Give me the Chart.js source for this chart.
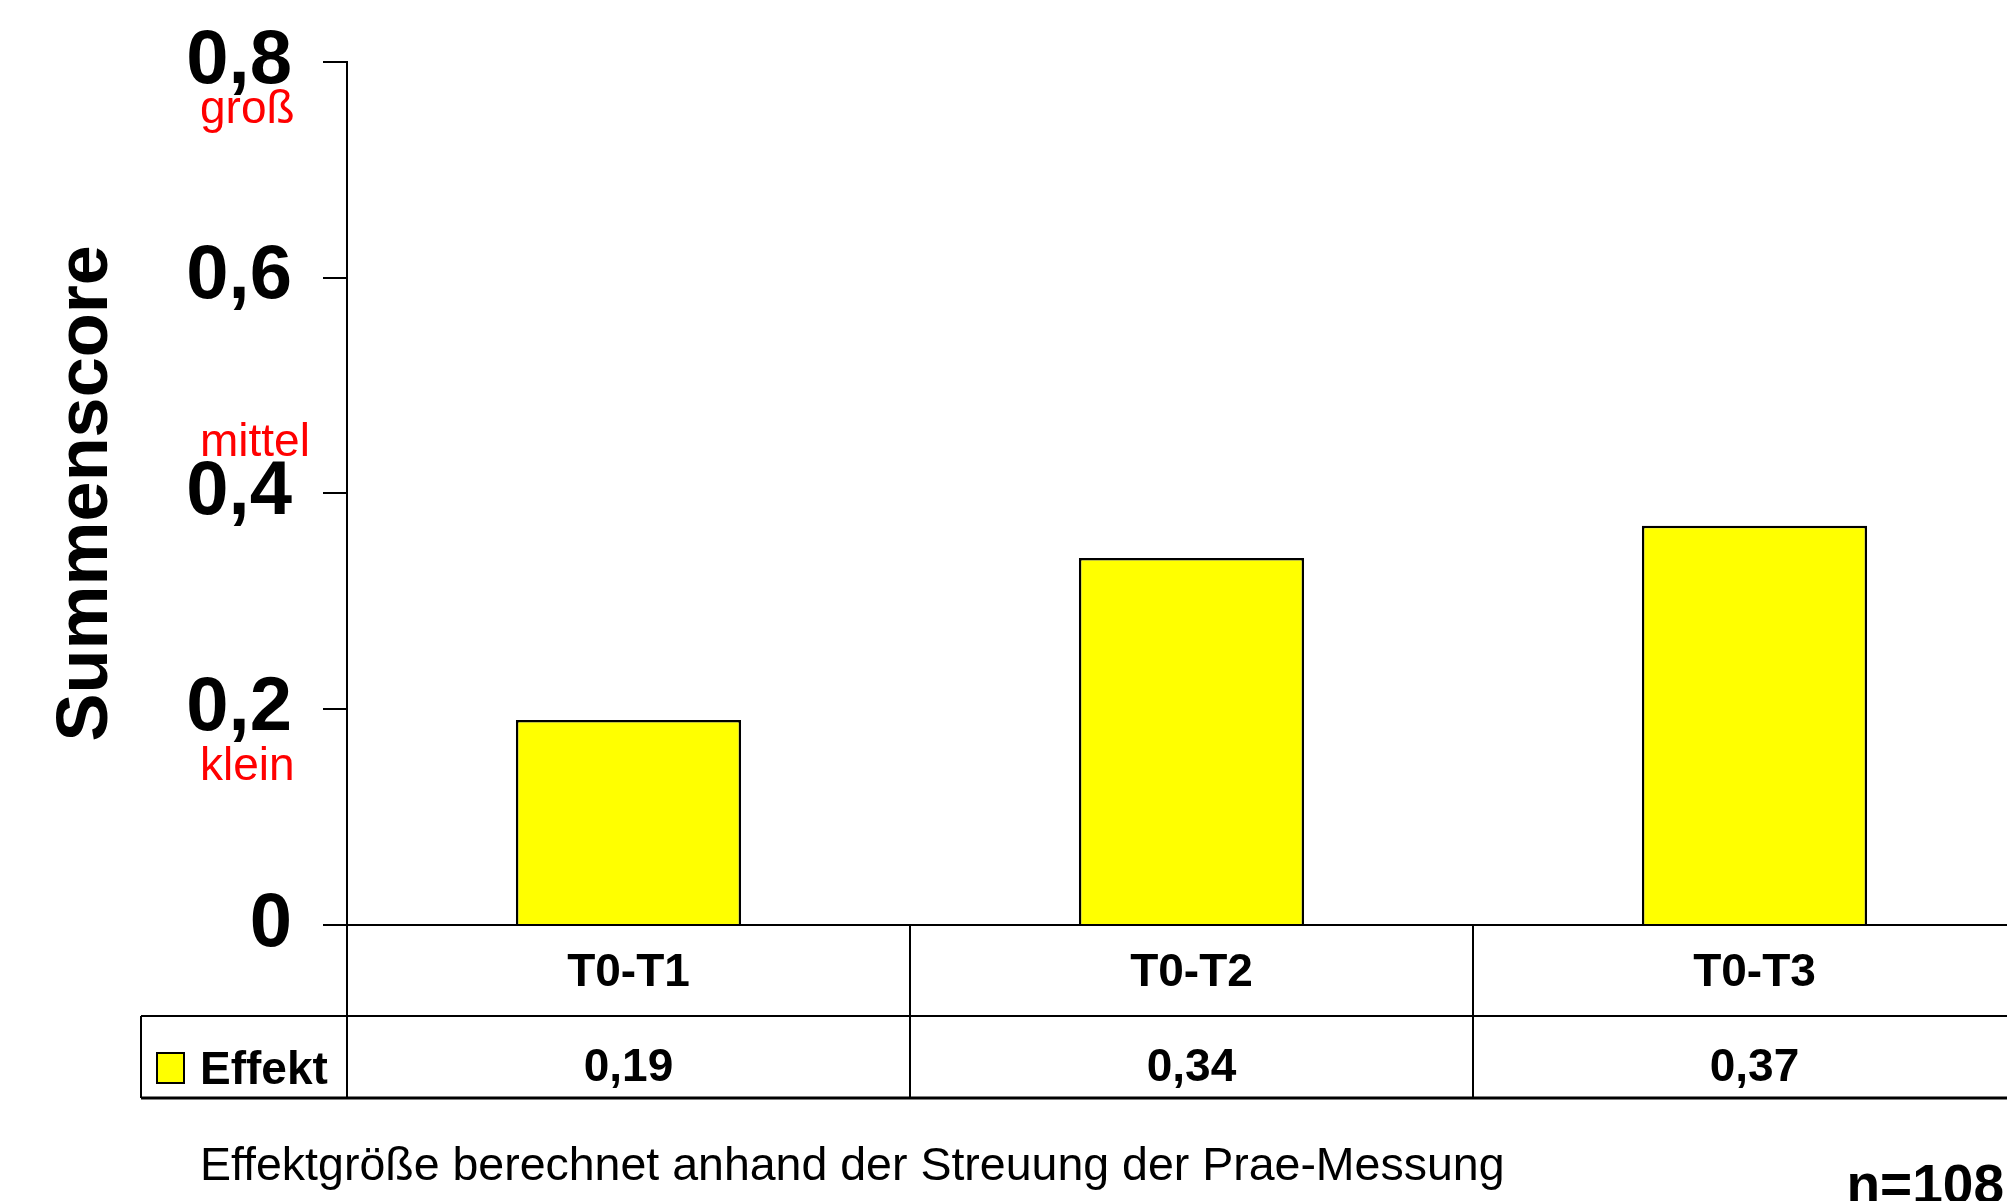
<!DOCTYPE html>
<html>
<head>
<meta charset="utf-8">
<script src="https://cdn.jsdelivr.net/npm/chart.js@4.4.1/dist/chart.umd.min.js"></script>
<style>
  html, body { margin: 0; padding: 0; background: #fff; overflow: hidden; }
  #wrap { position: absolute; left: 0; top: 0; width: 2040px; height: 1201px; }
</style>
</head>
<body>
<div id="wrap"><canvas id="chart" width="2040" height="1201"></canvas></div>
<script>
// Effect sizes per measurement interval
const categories = ['T0-T1', 'T0-T2', 'T0-T3'];
const effekt = [0.19, 0.34, 0.37];
const seriesName = 'Effekt';

// Value axis
const yTicks = [0, 0.2, 0.4, 0.6, 0.8];
const axisTitle = 'Summenscore';

// Effect-size wording shown beside the axis, anchored to these tick values
const effectNames = ['klein', 'mittel', 'groß'];
const effectAnchors = [0.2, 0.4, 0.8];

const footnote = 'Effektgröße berechnet anhand der Streuung der Prae-Messung';
const sampleNote = 'n=108';

const FONT = '"Liberation Sans", Arial, Helvetica, sans-serif';
const fmt = (v, d) => (v === 0 ? '0' : v.toFixed(d).replace('.', ','));

// Data table under the bars, legend swatch, effect-size words and notes
const tablePlugin = {
  id: 'tablePlugin',
  afterDraw(chart, args, opts) {
    const { ctx, chartArea } = chart;
    const xs = chart.scales.x;
    const ys = chart.scales.y;
    const right = chartArea.right;
    const left = opts.tableLeft;
    const rowTop = opts.rowTop;
    const rowBottom = opts.rowBottom;

    ctx.save();
    ctx.strokeStyle = '#000';
    ctx.lineWidth = 2;
    ctx.beginPath();
    ctx.moveTo(left, rowTop); ctx.lineTo(right, rowTop);
    ctx.moveTo(left, rowTop); ctx.lineTo(left, rowBottom);
    ctx.stroke();
    ctx.lineWidth = 3;
    ctx.beginPath();
    ctx.moveTo(left, rowBottom); ctx.lineTo(right, rowBottom);
    ctx.stroke();

    // legend swatch + series name
    const ds = chart.data.datasets[0];
    ctx.fillStyle = ds.backgroundColor;
    ctx.fillRect(157, 1053, 27, 30);
    ctx.lineWidth = 2;
    ctx.strokeStyle = '#000';
    ctx.strokeRect(157, 1053, 27, 30);
    ctx.fillStyle = '#000';
    ctx.font = 'bold 46px ' + FONT;
    ctx.textAlign = 'left';
    ctx.textBaseline = 'alphabetic';
    ctx.fillText(ds.label, 200, 1084);

    // values row
    ctx.textAlign = 'center';
    ds.data.forEach((v, i) => {
      ctx.fillText(fmt(v, 2), xs.getPixelForValue(i), 1081);
    });

    // effect-size words
    ctx.font = '46px ' + FONT;
    ctx.fillStyle = '#ff0000';
    ctx.textAlign = 'left';
    effectNames.forEach((name, i) => {
      const py = ys.getPixelForValue(effectAnchors[i]) + opts.wordOffsets[i];
      ctx.fillText(name, 200, py);
    });

    // footnote and sample size
    ctx.fillStyle = '#000';
    ctx.font = '46.5px ' + FONT;
    ctx.fillText(footnote, 200, 1180);
    ctx.font = 'bold 55px ' + FONT;
    ctx.textAlign = 'right';
    ctx.fillText(sampleNote, 2004, 1203);
    ctx.restore();
  }
};

new Chart(document.getElementById('chart'), {
  type: 'bar',
  data: {
    labels: categories,
    datasets: [{
      label: seriesName,
      data: effekt,
      backgroundColor: '#ffff00',
      borderColor: '#000000',
      borderWidth: 2.5,
      barPercentage: 0.4,
      categoryPercentage: 1.0
    }]
  },
  options: {
    responsive: false,
    animation: false,
    devicePixelRatio: 1,
    layout: { padding: { top: 61.7, right: 4, bottom: 0, left: 0 } },
    plugins: {
      legend: { display: false },
      tooltip: { enabled: false },
      tablePlugin: {
        tableLeft: 141,
        rowTop: 1016,
        rowBottom: 1098,
        wordOffsets: [71, -37, 61]
      }
    },
    scales: {
      x: {
        type: 'category',
        offset: true,
        afterFit: s => { s.height = 276; s.paddingLeft = 0; s.paddingRight = 0; },
        grid: {
          offset: true,
          drawOnChartArea: false,
          drawTicks: true,
          tickLength: 173,
          color: '#000',
          lineWidth: 2
        },
        border: { display: true, color: '#000', width: 2 },
        ticks: {
          autoSkip: false,
          maxRotation: 0,
          color: '#000',
          padding: -148,
          font: { family: FONT, size: 46, weight: 'bold', lineHeight: 1 }
        }
      },
      y: {
        type: 'linear',
        min: 0,
        max: 0.8,
        afterFit: s => { s.width = 347; s.paddingTop = 0; s.paddingBottom = 0; },
        afterBuildTicks: s => { s.ticks = yTicks.map(v => ({ value: v })); },
        grid: {
          drawOnChartArea: false,
          drawTicks: true,
          tickLength: 24,
          color: '#000',
          lineWidth: 2
        },
        border: { display: true, color: '#000', width: 2 },
        ticks: {
          color: '#000',
          padding: 31,
          font: { family: FONT, size: 76, weight: 'bold', lineHeight: 1 },
          callback: v => fmt(v, 1)
        },
        title: {
          display: true,
          text: axisTitle,
          color: '#000',
          font: { family: FONT, size: 72, weight: 'bold', lineHeight: 1 },
          padding: { top: 51, bottom: 0 }
        }
      }
    }
  },
  plugins: [tablePlugin]
});
</script>
</body>
</html>
